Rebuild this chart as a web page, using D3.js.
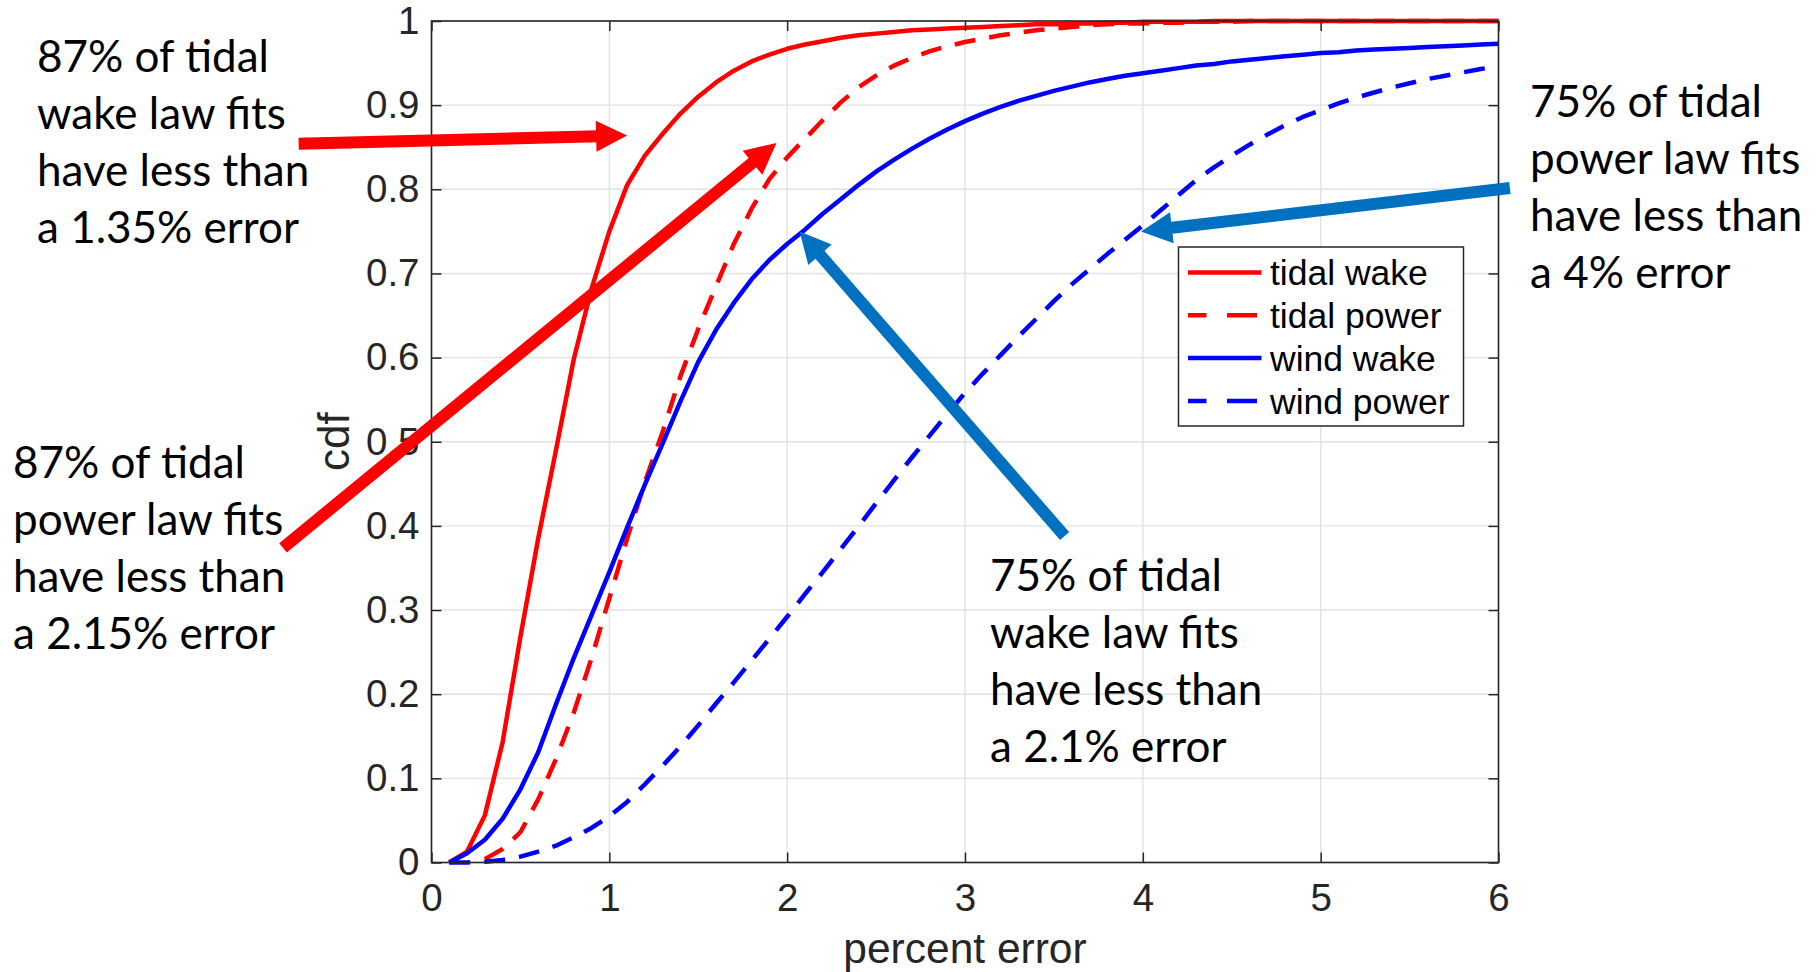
<!DOCTYPE html>
<html>
<head>
<meta charset="utf-8">
<script src="https://cdn.jsdelivr.net/npm/d3@7/dist/d3.min.js"></script>
<style>
  html, body { margin: 0; padding: 0; background: #ffffff; }
  svg { display: block; }
</style>
</head>
<body>
<svg id="chart" width="1818" height="972"></svg>
<script>
// Percent error at which each empirical cdf was sampled
const errorPct = [
  0.1, 0.2, 0.3, 0.4, 0.5, 0.6, 0.7, 0.8, 0.9, 1.0,
  1.1, 1.2, 1.3, 1.4, 1.5, 1.6, 1.7, 1.8, 1.9, 2.0,
  2.1, 2.2, 2.3, 2.4, 2.5, 2.6, 2.7, 2.8, 2.9, 3.0,
  3.1, 3.2, 3.3, 3.4, 3.5, 3.6, 3.7, 3.8, 3.9, 4.0,
  4.1, 4.2, 4.3, 4.4, 4.5, 4.6, 4.7, 4.8, 4.9, 5.0,
  5.1, 5.2, 5.3, 5.4, 5.5, 5.6, 5.7, 5.8, 5.9, 6.0
];

const tidalWake = [
  0.000, 0.013, 0.056, 0.143, 0.268, 0.385, 0.490, 0.598, 0.682, 0.750,
  0.805, 0.840, 0.866, 0.890, 0.910, 0.927, 0.941, 0.952, 0.960, 0.967,
  0.972, 0.976, 0.980, 0.983, 0.985, 0.987, 0.989, 0.990, 0.991, 0.992,
  0.993, 0.994, 0.995, 0.996, 0.996, 0.997, 0.997, 0.998, 0.998, 0.999,
  0.999, 0.999, 0.999, 1.000, 1.000, 1.000, 1.000, 1.000, 1.000, 1.000,
  1.000, 1.000, 1.000, 1.000, 1.000, 1.000, 1.000, 1.000, 1.000, 1.000
];

const tidalPower = [
  null,  null,  0.004, 0.016, 0.036, 0.075, 0.123, 0.178, 0.243, 0.314,
  0.385, 0.452, 0.512, 0.578, 0.634, 0.685, 0.735, 0.777, 0.812, 0.838,
  0.860, 0.882, 0.903, 0.921, 0.935, 0.947, 0.956, 0.964, 0.970, 0.975,
  0.979, 0.983, 0.986, 0.989, 0.991, 0.993, 0.995, 0.996, 0.997, 0.997,
  0.998, 0.998, 0.999, 0.999, 0.999, 1.000, 1.000, 1.000, 1.000, 1.000,
  1.000, 1.000, 1.000, 1.000, 1.000, 1.000, 1.000, 1.000, 1.000, 1.000
];

const windWake = [
  0.000, 0.011, 0.027, 0.052, 0.087, 0.131, 0.188, 0.243, 0.294, 0.345,
  0.398, 0.449, 0.498, 0.548, 0.595, 0.633, 0.665, 0.693, 0.716, 0.735,
  0.752, 0.771, 0.788, 0.805, 0.821, 0.835, 0.848, 0.860, 0.871, 0.881,
  0.890, 0.898, 0.905, 0.911, 0.917, 0.922, 0.927, 0.931, 0.935, 0.938,
  0.941, 0.944, 0.947, 0.949, 0.952, 0.954, 0.956, 0.958, 0.960, 0.962,
  0.963, 0.965, 0.966, 0.967, 0.968, 0.969, 0.970, 0.971, 0.972, 0.973
];

const windPower = [
  0.000, 0.000, 0.001, 0.003, 0.007, 0.013, 0.020, 0.030, 0.041, 0.055,
  0.072, 0.093, 0.115, 0.138, 0.163, 0.189, 0.214, 0.240, 0.266, 0.292,
  0.319, 0.345, 0.372, 0.399, 0.427, 0.454, 0.481, 0.507, 0.533, 0.558,
  0.581, 0.603, 0.625, 0.646, 0.667, 0.687, 0.705, 0.723, 0.740, 0.757,
  0.775, 0.793, 0.811, 0.826, 0.840, 0.853, 0.865, 0.876, 0.886, 0.894,
  0.902, 0.909, 0.915, 0.921, 0.926, 0.931, 0.935, 0.939, 0.943, 0.946
];

const seriesNames = ["tidal wake", "tidal power", "wind wake", "wind power"];
const xTicks = [0, 1, 2, 3, 4, 5, 6];
const yTicks = [0, 0.1, 0.2, 0.3, 0.4, 0.5, 0.6, 0.7, 0.8, 0.9, 1];
const xLabel = "percent error";
const yLabel = "cdf";

// Callout notes: text lines plus the point on the chart each arrow points to
const notes = [
  { lines: ["87% of tidal", "wake law fits", "have less than", "a 1.35% error"],
    tip: [1.10, 0.864], color: "#ff0000" },
  { lines: ["87% of tidal", "power law fits", "have less than", "a 2.15% error"],
    tip: [1.94, 0.855], color: "#ff0000" },
  { lines: ["75% of tidal", "wake law fits", "have less than", "a 2.1% error"],
    tip: [2.07, 0.75], color: "#0070c0" },
  { lines: ["75% of tidal", "power law fits", "have less than", "a 4% error"],
    tip: [3.99, 0.75], color: "#0070c0" }
];

// ---- layout ----
const plot = { left: 431.5, right: 1498.5, top: 21, bottom: 862.5 };
const axisColor = "#262626";
const tickFont = "'Liberation Sans', Arial, Helvetica, sans-serif";
const noteFont = "Lato, 'Open Sans', sans-serif";

const svg = d3.select("#chart");

const x = d3.scaleLinear().domain([0, 6]).range([plot.left, plot.right]);
const y = d3.scaleLinear().domain([0, 1]).range([plot.bottom, plot.top]);

// grid
const grid = svg.append("g").attr("stroke", "#e2e2e2").attr("stroke-width", 1.4);
grid.selectAll("line.gx").data(xTicks).join("line")
  .attr("x1", d => x(d)).attr("x2", d => x(d))
  .attr("y1", plot.top).attr("y2", plot.bottom);
grid.selectAll("line.gy").data(yTicks).join("line")
  .attr("y1", d => y(d)).attr("y2", d => y(d))
  .attr("x1", plot.left).attr("x2", plot.right);

// curves
const styles = [
  { data: tidalWake,  color: "#ff0000", dash: null },
  { data: tidalPower, color: "#ff0000", dash: "21,14" },
  { data: windWake,   color: "#0000ff", dash: null },
  { data: windPower,  color: "#0000ff", dash: "21,14" }
];

const line = d3.line()
  .defined(d => d[1] !== null)
  .x(d => x(d[0]))
  .y(d => y(d[1]));

const curves = svg.append("g").attr("fill", "none").attr("stroke-width", 4.5)
  .attr("stroke-linejoin", "round");
styles.forEach(s => {
  curves.append("path")
    .datum(errorPct.map((e, i) => [e, s.data[i]]))
    .attr("d", line)
    .attr("stroke", s.color)
    .attr("stroke-dasharray", s.dash);
});

// axes (ticks pointing inward on all four sides)
const fmt = d => String(+d.toFixed(1));
const tickLen = 10;

const gx = svg.append("g").attr("transform", `translate(0,${plot.bottom})`)
  .call(d3.axisBottom(x).tickValues(xTicks).tickFormat(fmt)
    .tickSize(-tickLen).tickPadding(21));
const gy = svg.append("g").attr("transform", `translate(${plot.left},0)`)
  .call(d3.axisLeft(y).tickValues(yTicks).tickFormat(fmt)
    .tickSize(-tickLen).tickPadding(12));
const gt = svg.append("g").attr("transform", `translate(0,${plot.top})`)
  .call(d3.axisTop(x).tickValues(xTicks).tickFormat("").tickSize(-tickLen));
const gr = svg.append("g").attr("transform", `translate(${plot.right},0)`)
  .call(d3.axisRight(y).tickValues(yTicks).tickFormat("").tickSize(-tickLen));

[gx, gy, gt, gr].forEach(g => {
  g.select(".domain").remove();
  g.selectAll(".tick line").attr("stroke", axisColor).attr("stroke-width", 1.5);
  g.selectAll(".tick text").attr("fill", axisColor)
    .style("font-family", tickFont).style("font-size", "38.5px");
});

svg.append("rect")
  .attr("x", plot.left).attr("y", plot.top)
  .attr("width", plot.right - plot.left).attr("height", plot.bottom - plot.top)
  .attr("fill", "none").attr("stroke", axisColor).attr("stroke-width", 1.6);

// axis labels
svg.append("text")
  .attr("x", (plot.left + plot.right) / 2).attr("y", 963)
  .attr("text-anchor", "middle").attr("fill", axisColor)
  .style("font-family", tickFont).style("font-size", "42.5px")
  .text(xLabel);

svg.append("text")
  .attr("transform", `translate(349,${(plot.top + plot.bottom) / 2}) rotate(-90)`)
  .attr("text-anchor", "middle").attr("fill", axisColor)
  .style("font-family", tickFont).style("font-size", "44px")
  .text(yLabel);

// legend
const legend = { left: 1178.5, top: 247, width: 285, height: 179, row: 42.8 };
const lg = svg.append("g");
lg.append("rect")
  .attr("x", legend.left).attr("y", legend.top)
  .attr("width", legend.width).attr("height", legend.height)
  .attr("fill", "#ffffff").attr("stroke", axisColor).attr("stroke-width", 1.5);
styles.forEach((s, i) => {
  const cy = legend.top + 25.5 + i * legend.row;
  lg.append("line")
    .attr("x1", legend.left + 9.5).attr("x2", legend.left + 83)
    .attr("y1", cy).attr("y2", cy)
    .attr("stroke", s.color).attr("stroke-width", 4.5)
    .attr("stroke-dasharray", s.dash ? "18.5,20.5,30,100" : null);
  lg.append("text")
    .attr("x", legend.left + 91.5).attr("y", cy).attr("dy", "0.36em")
    .attr("fill", "#000000")
    .style("font-family", tickFont).style("font-size", "35.5px")
    .text(seriesNames[i]);
});

// callout text blocks
const noteBoxes = [
  { x: 37,   y: 71.5 },
  { x: 13,   y: 477.5 },
  { x: 990,  y: 591 },
  { x: 1530, y: 116.5 }
];
const noteLine = 57;
// arrow tails, in chart units
const tails = [[-0.747, 0.854], [-0.835, 0.374], [3.56, 0.388], [6.064, 0.8015]];

notes.forEach((n, i) => {
  const t = svg.append("text")
    .attr("fill", "#000000")
    .style("font-family", noteFont).style("font-size", "44px");
  n.lines.forEach((ln, j) => {
    t.append("tspan")
      .attr("x", noteBoxes[i].x).attr("y", noteBoxes[i].y + j * noteLine)
      .text(ln);
  });
});

// arrows
function arrow(tail, tip, color) {
  const x0 = x(tail[0]), y0 = y(tail[1]);
  const x1 = x(tip[0]),  y1 = y(tip[1]);
  const dx = x1 - x0, dy = y1 - y0, len = Math.hypot(dx, dy);
  const ux = dx / len, uy = dy / len;
  const headLen = 31, headHalf = 15.5, shaft = 12;
  const bx = x1 - ux * headLen, by = y1 - uy * headLen;
  svg.append("line")
    .attr("x1", x0).attr("y1", y0)
    .attr("x2", bx + ux * 2).attr("y2", by + uy * 2)
    .attr("stroke", color).attr("stroke-width", shaft);
  svg.append("polygon")
    .attr("points", [
      [x1, y1],
      [bx - uy * headHalf, by + ux * headHalf],
      [bx + uy * headHalf, by - ux * headHalf]
    ].map(p => p.join(",")).join(" "))
    .attr("fill", color);
}
notes.forEach((n, i) => arrow(tails[i], n.tip, n.color));
</script>
</body>
</html>
